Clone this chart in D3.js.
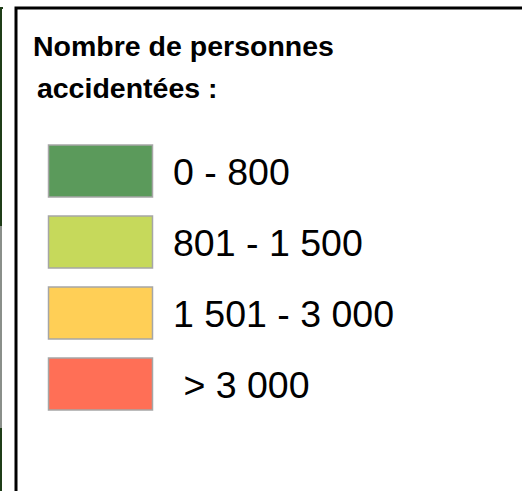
<!DOCTYPE html>
<html>
<head>
<meta charset="utf-8">
<script src="https://cdn.jsdelivr.net/npm/d3@7"></script>
<style>
  body { margin: 0; background: #fff; }
  svg { display: block; }
</style>
</head>
<body>
<div id="legend"></div>
<script>
var titleLines = ["Nombre de personnes", " accidentées :"];
var classes = ["0 - 800", "801 - 1 500", "1 501 - 3 000", " > 3 000"];
var colors = ["#5b9a5b", "#c6d95b", "#ffcf56", "#ff6f56"];

var width = 522, height = 491;

var svg = d3.select("#legend").append("svg")
  .attr("width", width)
  .attr("height", height);

// bord de la carte, coupé à gauche
var edge = [[7, 226, "#1f3d18"], [226, 428, "#8a8f8a"], [428, height, "#1f3d18"]];
svg.append("g")
  .selectAll("line")
  .data(edge)
  .join("line")
    .attr("x1", 1).attr("x2", 1)
    .attr("y1", function(d) { return d[0]; })
    .attr("y2", function(d) { return d[1]; })
    .attr("stroke", function(d) { return d[2]; })
    .attr("stroke-width", 2);
svg.append("line")
  .attr("x1", 0).attr("x2", 3).attr("y1", 8).attr("y2", 8)
  .attr("stroke", "#1f3d18").attr("stroke-width", 2);

// cadre de la légende
svg.append("path")
  .attr("d", "M16," + (height + 2) + " L16,8 L" + (width + 2) + ",8")
  .attr("fill", "none")
  .attr("stroke", "#000")
  .attr("stroke-width", 3);

svg.append("g")
  .selectAll("text")
  .data(titleLines)
  .join("text")
    .attr("x", function(d, i) { return i == 0 ? 33 : 29; })
    .attr("y", function(d, i) { return 56 + i * 42; })
    .attr("font-family", "'Liberation Sans', Arial, sans-serif")
    .attr("font-weight", "bold")
    .attr("font-size", 28.5)
    .style("white-space", "pre")
    .text(function(d) { return d; });

var y = d3.scaleBand()
  .domain(classes)
  .range([145, 410])
  .paddingInner(19 / 71)
  .paddingOuter(0);

var color = d3.scaleOrdinal().domain(classes).range(colors);

var rows = svg.append("g")
  .selectAll("g")
  .data(classes)
  .join("g");

rows.append("rect")
  .attr("x", 48.5)
  .attr("y", function(d) { return y(d); })
  .attr("width", 104)
  .attr("height", y.bandwidth())
  .attr("fill", function(d) { return color(d); })
  .attr("stroke", "#a6a6a6")
  .attr("stroke-width", 1.5);

rows.append("text")
  .attr("x", 173)
  .attr("y", function(d) { return y(d) + y.bandwidth() / 2 + 13.5; })
  .attr("font-family", "'Liberation Sans', Arial, sans-serif")
  .attr("font-size", 37.5)
  .attr("fill", "#000")
  .style("white-space", "pre")
  .text(function(d) { return d; });
</script>
</body>
</html>
